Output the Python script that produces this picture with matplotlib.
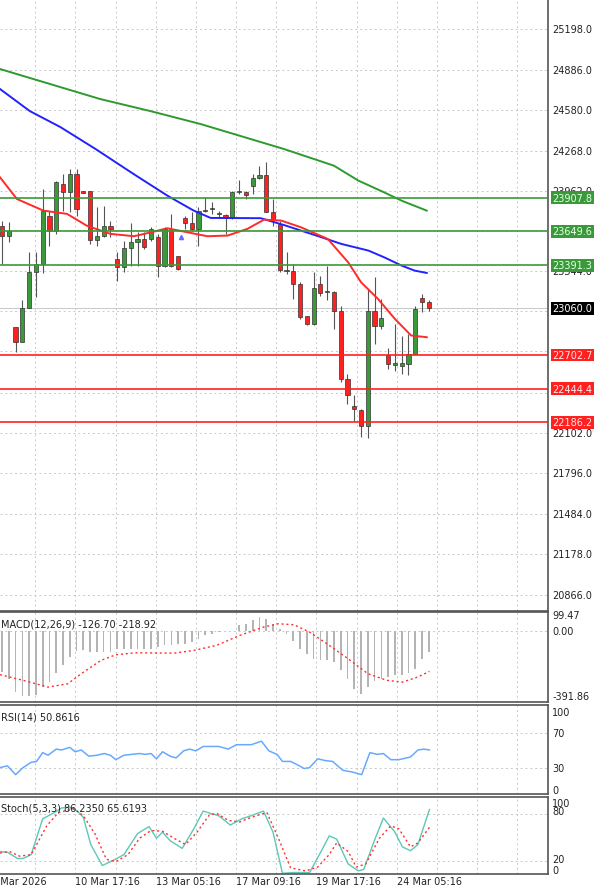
import numpy as np
import matplotlib
matplotlib.use('Agg')
import matplotlib.pyplot as plt

# candles (open, high, low, close)
opens = [23688, 23617, 22915, 22806, 23061, 23341, 23400, 23770, 23655, 24012,
         23948, 24089, 23961, 23956, 23586, 23612, 23693, 23438, 23374, 23520,
         23566, 23591, 23591, 23604, 23387, 23668, 23459, 23752, 23714, 23668,
         23813, 23821, 23780, 23775, 23757, 23948, 23953, 24000, 24056, 24081,
         23800, 23706, 23346, 23349, 23247, 23000, 22941, 23247, 23188, 23188,
         23043, 22520, 22311, 22278, 22163, 23043, 22928, 22704, 22630, 22622,
         22635, 22712, 23140, 23107]
highs = [23732, 23719, 22915, 23120, 23489, 23489, 23974, 23808, 24038, 24089,
         24127, 24127, 23961, 23956, 23834, 23841, 23732, 23489, 23579, 23714,
         23642, 23642, 23681, 23630, 23681, 23783, 23464, 23770, 23795, 23834,
         23910, 23872, 23808, 23783, 23961, 24045, 23961, 24089, 24152, 24178,
         23897, 23732, 23489, 23400, 23260, 23005, 23336, 23311, 23387, 23196,
         23081, 22558, 22393, 22290, 23209, 23298, 23132, 22755, 22940, 22852,
         22864, 23076, 23170, 23127]
lows = [23400, 23566, 22724, 22806, 23061, 23145, 23331, 23540, 23630, 23808,
        23795, 23770, 23943, 23553, 23540, 23604, 23604, 23272, 23336, 23387,
        23387, 23515, 23579, 23298, 23374, 23374, 23357, 23668, 23655, 23540,
        23795, 23783, 23757, 23630, 23744, 23936, 23897, 23936, 24050, 23795,
        23693, 23336, 23323, 23132, 22979, 22936, 22936, 23158, 23120, 22903,
        22495, 22329, 22201, 22074, 22066, 22788, 22903, 22597, 22584, 22558,
        22546, 22712, 23030, 23043]
closes = [23612, 23655, 22806, 23061, 23341, 23400, 23808, 23655, 24025, 23948,
          24089, 23821, 23943, 23586, 23612, 23693, 23668, 23374, 23520, 23566,
          23591, 23527, 23668, 23387, 23668, 23387, 23362, 23714, 23668, 23808,
          23808, 23821, 23780, 23757, 23948, 23948, 23928, 24056, 24081, 23800,
          23744, 23357, 23346, 23247, 22992, 22941, 23214, 23178, 23188, 23043,
          22520, 22398, 22290, 22163, 23043, 22928, 22984, 22635, 22630, 22640,
          22712, 23056, 23107, 23061]

# moving averages (bar index, price)
ma_red_x = [-0.3, 2.2, 6.1, 9.6, 12.5, 16.0, 19.5, 22.0, 24.4, 27.4, 30.3, 33.3,
            36.2, 38.7, 41.2, 44.1, 48.1, 51.1, 53.0, 55.5, 58.0, 60.4, 62.7]
ma_red_y = [24063, 23897, 23808, 23783, 23693, 23630, 23612, 23642, 23673, 23642,
            23612, 23617, 23668, 23739, 23732, 23681, 23591, 23412, 23260, 23132,
            22979, 22852, 22839]
ma_blue_x = [-0.3, 4.1, 8.6, 13.8, 19.4, 24.4, 28.3, 30.8, 38.2, 41.6, 46.7, 50.1,
             54.1, 56.4, 59.0, 60.9, 62.7]
ma_blue_y = [24739, 24570, 24448, 24280, 24089, 23923, 23808, 23752, 23750, 23698,
             23612, 23553, 23502, 23451, 23387, 23349, 23331]
ma_green_x = [-0.3, 7.1, 14.5, 21.9, 29.3, 36.7, 41.6, 49.0, 52.6, 56.4, 59.0, 62.7]
ma_green_y = [24892, 24777, 24662, 24570, 24471, 24356, 24280, 24152, 24038, 23948,
              23884, 23808]

levels_green = [23907.8, 23649.6, 23391.3]
levels_red = [22702.7, 22444.4, 22186.2]
last_price = 23060.0
price_grid = [25198, 24886, 24580, 24268, 23962, 23656, 23344, 23036, 22730,
              22414, 22102, 21796, 21484, 21178, 20866]
price_labels = [25198, 24886, 24580, 24268, 23962, 23344, 22102, 21796, 21484,
                21178, 20866]

# MACD
macd_hist = [-247, -287, -368, -390, -390, -388, -338, -308, -251, -207, -157, -123,
             -117, -127, -127, -127, -127, -107, -107, -107, -107, -107, -107,
             -96, -86, -86, -76, -76, -66, -46, -26, -16, -6, 0, 2, 34, 44, 64, 84,
             74, 44, 14, -16, -62, -107, -137, -167, -177, -177, -187, -237, -287,
             -348, -378, -338, -304, -287, -277, -267, -263, -251, -227, -167, -127]
macd_sig_x = [-0.3, 3.1, 6.8, 9.7, 11.7, 14.6, 16.8, 19.7, 25.4, 28.3, 31.7, 35.1,
              38.6, 40.8, 43.1, 45.4, 48.3, 51.1, 54.0, 56.8, 59.1, 61.4, 63.1]
macd_sig_y = [-263, -297, -338, -318, -257, -177, -143, -131, -133, -117, -86, -26,
              24, 44, 38, -6, -86, -167, -257, -297, -308, -277, -243]

# RSI
rsi_x = [-0.3, 0.8, 2.0, 3.1, 4.3, 5.1, 6.0, 6.8, 8.0, 8.8, 10.0, 10.8, 11.7, 12.8,
         14.0, 15.1, 16.0, 16.8, 18.0, 19.1, 20.3, 21.1, 22.0, 22.8, 23.7, 24.8,
         25.7, 26.8, 27.7, 28.6, 29.7, 30.8, 32.0, 33.4, 34.6, 35.7, 36.8, 38.3,
         39.4, 40.6, 41.4, 42.6, 43.4, 44.6, 45.4, 46.6, 47.7, 48.8, 50.3, 51.7,
         53.1, 54.3, 55.4, 56.3, 57.4, 58.6, 59.7, 60.3, 61.4, 62.3, 63.1]
rsi_y = [31, 33, 23, 31, 37, 38, 48, 45, 52, 51, 54, 49, 51, 44, 45, 47, 45, 40,
         45, 46, 47, 46, 47, 41, 49, 44, 42, 50, 52, 50, 55, 55, 55, 52, 57, 57,
         57, 61, 50, 46, 38, 38, 35, 30, 31, 41, 39, 38, 28, 26, 23, 48, 46, 47,
         40, 40, 42, 43, 51, 52, 51]

# Stochastic
stk_x = [-0.3, 0.8, 2.3, 3.1, 4.3, 6.0, 7.7, 8.8, 10.0, 11.1, 12.0, 13.1, 14.8,
         16.3, 18.0, 20.0, 21.7, 22.8, 23.7, 24.8, 26.6, 28.3, 29.7, 30.8, 32.0,
         33.7, 35.4, 37.1, 38.6, 40.0, 41.4, 43.1, 45.4, 47.1, 48.3, 49.4, 51.1,
         52.6, 53.4, 55.1, 56.3, 58.0, 59.1, 60.3, 61.4, 63.1]
stk_y = [32, 31, 23, 23, 28, 74, 82, 88, 89, 84, 76, 41, 14, 20, 28, 55, 64, 49,
         57, 46, 36, 61, 84, 81, 78, 66, 74, 79, 84, 57, 4, 5, 5, 32, 52, 48, 16,
         7, 9, 49, 75, 57, 38, 33, 41, 86]
std_x = [-0.3, 1.1, 2.6, 4.3, 6.6, 8.3, 10.6, 12.0, 13.7, 15.4, 16.8, 18.6, 20.3,
         22.0, 23.7, 25.4, 27.1, 28.8, 30.6, 31.7, 33.4, 35.1, 36.8, 39.1, 40.8,
         42.6, 44.8, 46.6, 48.3, 49.4, 51.1, 52.3, 53.7, 55.7, 57.4, 58.6, 60.3,
         61.4, 63.1]
std_y = [30, 32, 26, 28, 65, 82, 87, 78, 55, 22, 19, 28, 49, 59, 58, 49, 41, 57,
         79, 81, 72, 70, 76, 82, 49, 11, 7, 12, 28, 43, 32, 12, 16, 49, 65, 61, 38,
         43, 63]

date_labels = ['9 Mar 2026', '10 Mar 17:16', '13 Mar 05:16', '17 Mar 09:16',
               '19 Mar 17:16', '24 Mar 05:16']

GREEN = '#3a9a3a'
RED = '#ff2020'
XMIN, XMAX = -0.3, 80.6
n = len(opens)
grid_x = 4.9 + 5.93 * np.arange(14)

fig = plt.figure(figsize=(6, 8.95), dpi=100)
W = 0.9133
ax = fig.add_axes([0, 0.3162, W, 0.6838])
ax_macd = fig.add_axes([0, 0.2145, W, 0.1006])
ax_rsi = fig.add_axes([0, 0.1117, W, 0.0994])
ax_sto = fig.add_axes([0, 0.0223, W, 0.086])

for a in (ax, ax_macd, ax_rsi, ax_sto):
    a.set_xlim(XMIN, XMAX)
    a.set_xticks([])
    a.set_yticks([])
    for s in a.spines.values():
        s.set_color('#555555')
        s.set_linewidth(1.2)
    a.spines['left'].set_visible(False)
    for gx in grid_x:
        a.axvline(gx, color='#c8c8c8', lw=0.7, ls=(0, (2, 3)), zorder=0)

# ---- main panel
ax.set_ylim(20743, 25428)
for p in price_grid:
    ax.axhline(p, color='#c8c8c8', lw=0.7, ls=(0, (2, 3)), zorder=0)
for i in range(n):
    o, h, l, c = opens[i], highs[i], lows[i], closes[i]
    col = GREEN if c >= o else RED
    ax.vlines(i, l, h, color='#555555', lw=0.8, zorder=2)
    lo, hi = min(o, c), max(o, c)
    ax.bar(i, max(hi - lo, 8), bottom=lo, width=0.62, color=col,
           edgecolor='#333333', linewidth=0.5, zorder=3)
ax.plot(ma_green_x, ma_green_y, color='#2e9a2e', lw=1.4, zorder=4)
ax.plot(ma_blue_x, ma_blue_y, color='#2222ff', lw=1.4, zorder=4)
ax.plot(ma_red_x, ma_red_y, color='#ff2a2a', lw=1.4, zorder=4)
ax.plot([26.4], [23604], marker='^', color='#6a6aff', ms=3, zorder=4)
ax.axhline(last_price, color='#cccccc', lw=0.8, zorder=1)
for lv in levels_green:
    ax.axhline(lv, color=GREEN, lw=1.2, zorder=5)
for lv in levels_red:
    ax.axhline(lv, color=RED, lw=1.2, zorder=5)

tx = 1.008
for p in price_labels:
    ax.text(tx, p, '%.1f' % p, transform=ax.get_yaxis_transform(), fontsize=7,
            va='center', ha='left', color='#222222')
for lv in levels_green:
    ax.text(tx, lv, '%.1f' % lv, transform=ax.get_yaxis_transform(), fontsize=7,
            va='center', ha='left', color='#e8ffe8', zorder=10,
            bbox=dict(boxstyle='square,pad=0.15', fc=GREEN, ec='none'))
for lv in levels_red:
    ax.text(tx, lv, '%.1f' % lv, transform=ax.get_yaxis_transform(), fontsize=7,
            va='center', ha='left', color='#ffe8e8', zorder=10,
            bbox=dict(boxstyle='square,pad=0.15', fc=RED, ec='none'))
ax.text(tx, last_price, '%.1f' % last_price, transform=ax.get_yaxis_transform(),
        fontsize=7, va='center', ha='left', color='white', zorder=10,
        bbox=dict(boxstyle='square,pad=0.15', fc='black', ec='none'))

# ---- MACD
ax_macd.set_ylim(-428, 115)
ax_macd.axhline(0, color='#c8c8c8', lw=0.7, ls=(0, (2, 3)), zorder=0)
ax_macd.bar(np.arange(len(macd_hist)), macd_hist, width=0.25, color='#b4b4b4', zorder=2)
ax_macd.plot(macd_sig_x, macd_sig_y, color='#ff3030', lw=1.0, ls=(0, (1.5, 2)), zorder=3)
ax_macd.text(0.002, 0.93, 'MACD(12,26,9) -126.70 -218.92', transform=ax_macd.transAxes,
             fontsize=7, va='top', ha='left', color='#222222')
for v, lab in [(99.47, '99.47'), (0, '0.00'), (-391.86, '-391.86')]:
    ax_macd.text(tx, v, lab, transform=ax_macd.get_yaxis_transform(), fontsize=7,
                 va='center', ha='left', color='#222222')

# ---- RSI
ax_rsi.set_ylim(1, 102)
for v in (70, 30):
    ax_rsi.axhline(v, color='#c8c8c8', lw=0.7, ls=(0, (2, 3)), zorder=0)
ax_rsi.plot(rsi_x, rsi_y, color='#66aaff', lw=1.1)
ax_rsi.text(0.002, 0.93, 'RSI(14) 50.8616', transform=ax_rsi.transAxes,
            fontsize=7, va='top', ha='left', color='#222222')
for v in (100, 70, 30, 0):
    ax_rsi.text(tx, v + (-6 if v == 100 else 6 if v == 0 else 0), str(v),
                transform=ax_rsi.get_yaxis_transform(), fontsize=7,
                va='center', ha='left', color='#222222')

# ---- Stochastic
ax_sto.set_ylim(3, 102)
for v in (80, 20):
    ax_sto.axhline(v, color='#c8c8c8', lw=0.7, ls=(0, (2, 3)), zorder=0)
ax_sto.plot(stk_x, stk_y, color='#5cc8b8', lw=1.0)
ax_sto.plot(std_x, std_y, color='#ff3030', lw=1.0, ls=(0, (1.5, 2)))
ax_sto.text(0.002, 0.93, 'Stoch(5,3,3) 86.2350 65.6193', transform=ax_sto.transAxes,
            fontsize=7, va='top', ha='left', color='#222222')
for v, yy in [(100, 94), (80, 84), (20, 22), (0, 8)]:
    ax_sto.text(tx, yy, str(v), transform=ax_sto.get_yaxis_transform(), fontsize=7,
                va='center', ha='left', color='#222222')

# date labels
for k, lab in enumerate(date_labels):
    gx = grid_x[2 * k - 1] if k > 0 else -1.6
    ax_sto.text(gx, -0.03, lab, transform=ax_sto.get_xaxis_transform(), fontsize=7,
                va='top', ha='left', color='#222222')

fig.savefig('out.png', dpi=100)
